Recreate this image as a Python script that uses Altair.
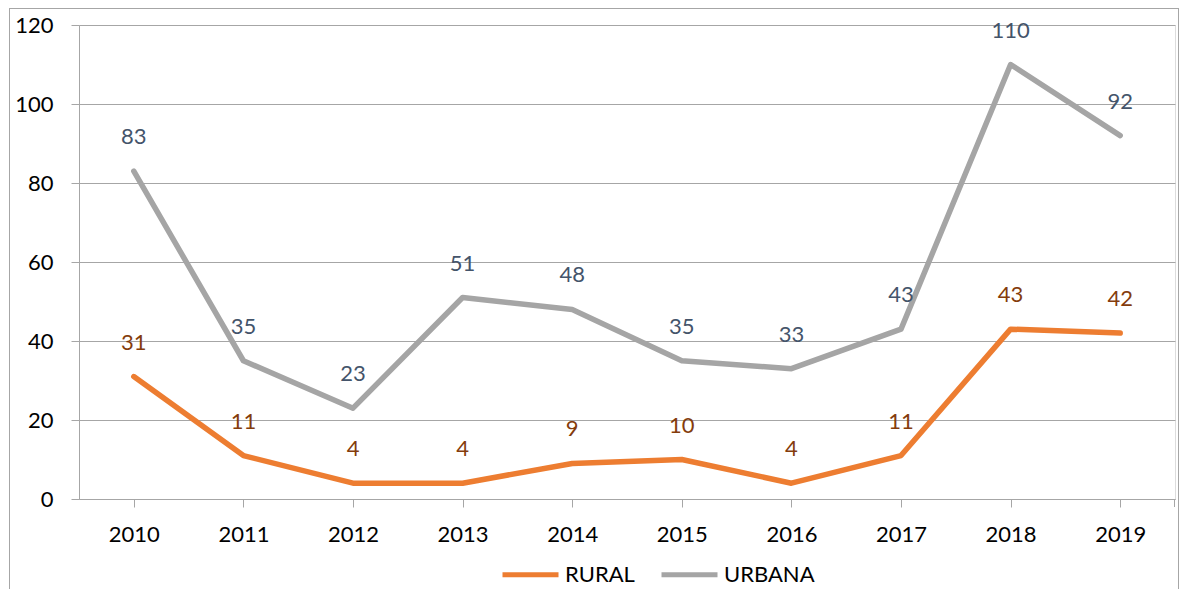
import altair as alt
import pandas as pd

years = ["2010", "2011", "2012", "2013", "2014", "2015", "2016", "2017", "2018", "2019"]
rural = [31, 11, 4, 4, 9, 10, 4, 11, 43, 42]
urbana = [83, 35, 23, 51, 48, 35, 33, 43, 110, 92]
series = ["RURAL", "URBANA"]
y_ticks = [0, 20, 40, 60, 80, 100, 120]

rows = []
for i, yr in enumerate(years):
    rows.append({"year": yr, "serie": "RURAL", "value": rural[i]})
    rows.append({"year": yr, "serie": "URBANA", "value": urbana[i]})
df = pd.DataFrame(rows)

FONT = "Lato"
W, H = 1096, 474
GRID = "#A6A6A6"

x_enc = alt.X("year:N", sort=years, scale=alt.Scale(paddingInner=0, paddingOuter=0),
              axis=alt.Axis(title=None, labelAngle=0, bandPosition=0, tickSize=8,
                            tickColor=GRID, domainColor=GRID, labelPadding=17,
                            labelFontSize=22, labelFont=FONT, labelColor="#000000",
                            grid=False))
y_enc = alt.Y("value:Q", scale=alt.Scale(domain=[0, 120], nice=False),
              axis=alt.Axis(title=None, values=y_ticks, tickSize=8, tickColor=GRID,
                            domainColor=GRID, gridColor=GRID, gridWidth=1,
                            labelPadding=18, labelFontSize=22, labelFont=FONT,
                            labelColor="#000000"))

color = alt.Color("serie:N", scale=alt.Scale(domain=series, range=["#ED7D31", "#A5A5A5"]),
                  legend=alt.Legend(title=None, orient="none", direction="horizontal",
                                    legendX=421, legendY=519, symbolType="stroke",
                                    symbolSize=3136, symbolStrokeWidth=5,
                                    labelFontSize=22, labelFont=FONT, labelColor="#000000",
                                    columnPadding=16, labelOffset=4))

lines = alt.Chart(df).mark_line(strokeWidth=5.5, strokeCap="round", strokeJoin="round").encode(
    x=x_enc, y=y_enc, color=color)

labels = alt.Chart(df).transform_calculate(
    lc="datum.serie == 'RURAL' ? '#843C0C' : '#44546A'"
).mark_text(fontSize=22, font=FONT, dy=-34, baseline="middle", align="center").encode(
    x=alt.X("year:N", sort=years),
    y="value:Q",
    text="value:Q",
    color=alt.Color("lc:N", scale=None, legend=None),
)

frame_l = alt.Chart(df).mark_rule(color="#A6A6A6", strokeWidth=1).encode(
    x=alt.value(-69.5), y=alt.value(-16.5), y2=alt.value(600))
frame_t = alt.Chart(df).mark_rule(color="#A6A6A6", strokeWidth=1).encode(
    x=alt.value(-69.5), x2=alt.value(W + 3.5), y=alt.value(-16.5))
frame_r = alt.Chart(df).mark_rule(color="#A6A6A6", strokeWidth=1).encode(
    x=alt.value(W + 3.5), y=alt.value(-16.5), y2=alt.value(600))
end_tick = alt.Chart(df).mark_rule(color=GRID, strokeWidth=1).encode(
    x=alt.value(W - 0.5), y=alt.value(H), y2=alt.value(H + 8))

chart = alt.layer(frame_l, frame_t, frame_r, end_tick, lines, labels).properties(
    width=W, height=H,
    autosize=alt.AutoSizeParams(type="none"),
    padding={"left": 71, "top": 17, "right": 4, "bottom": 90},
).configure_view(stroke=None).configure(background="white")

chart.save("out.html", embed_options={"renderer": "svg", "actions": False})
